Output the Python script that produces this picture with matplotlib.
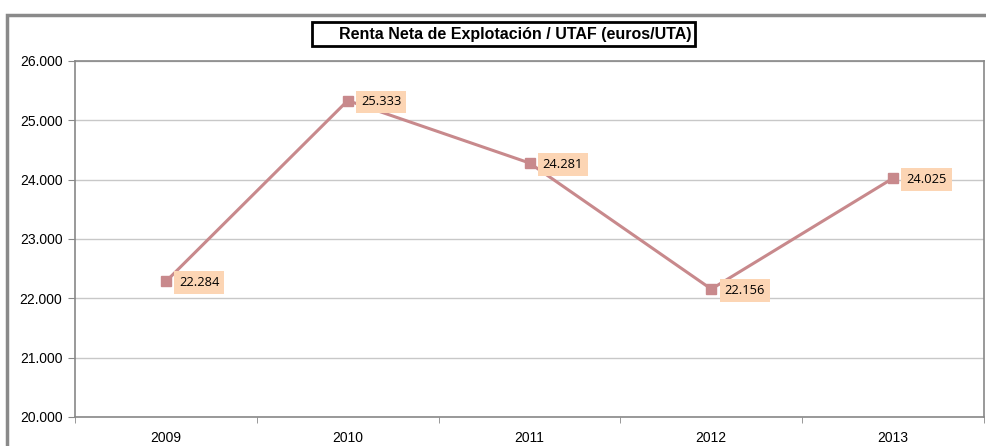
import matplotlib
matplotlib.use("Agg")
import matplotlib.pyplot as plt
from matplotlib.patches import Rectangle
from matplotlib.ticker import FixedLocator, FuncFormatter

years = ["2009", "2010", "2011", "2012", "2013"]
values = [22284, 25333, 24281, 22156, 24025]
y_ticks = [20000, 21000, 22000, 23000, 24000, 25000, 26000]
title = "Renta Neta de Explotación / UTAF (euros/UTA)"

W, H = 986, 446
fig = plt.figure(figsize=(W / 100, H / 100), dpi=100)
fig.patch.set_facecolor("white")

# outer frame (partially visible)
fig.add_artist(Rectangle((6.5 / W, -0.1), 1.2, (H - 15) / H + 0.1,
                         transform=fig.transFigure, fill=False,
                         edgecolor="#8a8a8a", linewidth=2.5))

ax = fig.add_axes([75 / W, (H - 417) / H, (984 - 75) / W, (417 - 61) / H])
x = list(range(len(years)))
line_color = "#C8898C"
ax.plot(x, values, color=line_color, linewidth=2.2, marker="s",
        markersize=7, markerfacecolor="#C8898C", markeredgecolor="#C8898C",
        zorder=3)

for xi, v in zip(x, values):
    label = f"{v:,}".replace(",", ".")
    ax.annotate(label, (xi, v), xytext=(9.5, -1), textcoords="offset points",
                ha="left", va="center", fontsize=9.3, family="Open Sans",
                bbox=dict(boxstyle="square,pad=0.38", facecolor="#FCD5B4",
                          edgecolor="none"), zorder=4)

ax.set_xlim(-0.5, len(years) - 0.5)
ax.set_ylim(20000, 26000)
ax.yaxis.set_major_locator(FixedLocator(y_ticks))
ax.yaxis.set_major_formatter(FuncFormatter(lambda v, p: f"{int(v):,}".replace(",", ".")))
ax.grid(axis="y", color="#c8c8c8", linewidth=1)
ax.set_axisbelow(True)

ax.set_xticks(x)
ax.set_xticklabels(years)
ax.set_xticks([i + 0.5 for i in range(-1, len(years))], minor=True)
ax.tick_params(axis="x", which="major", length=0, pad=10, labelsize=10)
ax.tick_params(axis="x", which="minor", length=4, color="#888888", direction="out")
ax.tick_params(axis="y", length=5, color="#888888", labelsize=10, pad=4)
for lab in ax.get_xticklabels() + ax.get_yticklabels():
    lab.set_family("Liberation Sans")

for s in ax.spines.values():
    s.set_color("#888888")
    s.set_linewidth(1.2)

fig.text(515 / W, 1 - 34 / H, title, ha="center", va="center",
         fontsize=11.5, fontweight="bold", family="Liberation Sans")
fig.add_artist(Rectangle((312 / W, 1 - 46 / H), (695 - 312) / W, 24 / H,
                         transform=fig.transFigure, fill=False,
                         edgecolor="black", linewidth=2))

fig.savefig("out.png", dpi=100)
